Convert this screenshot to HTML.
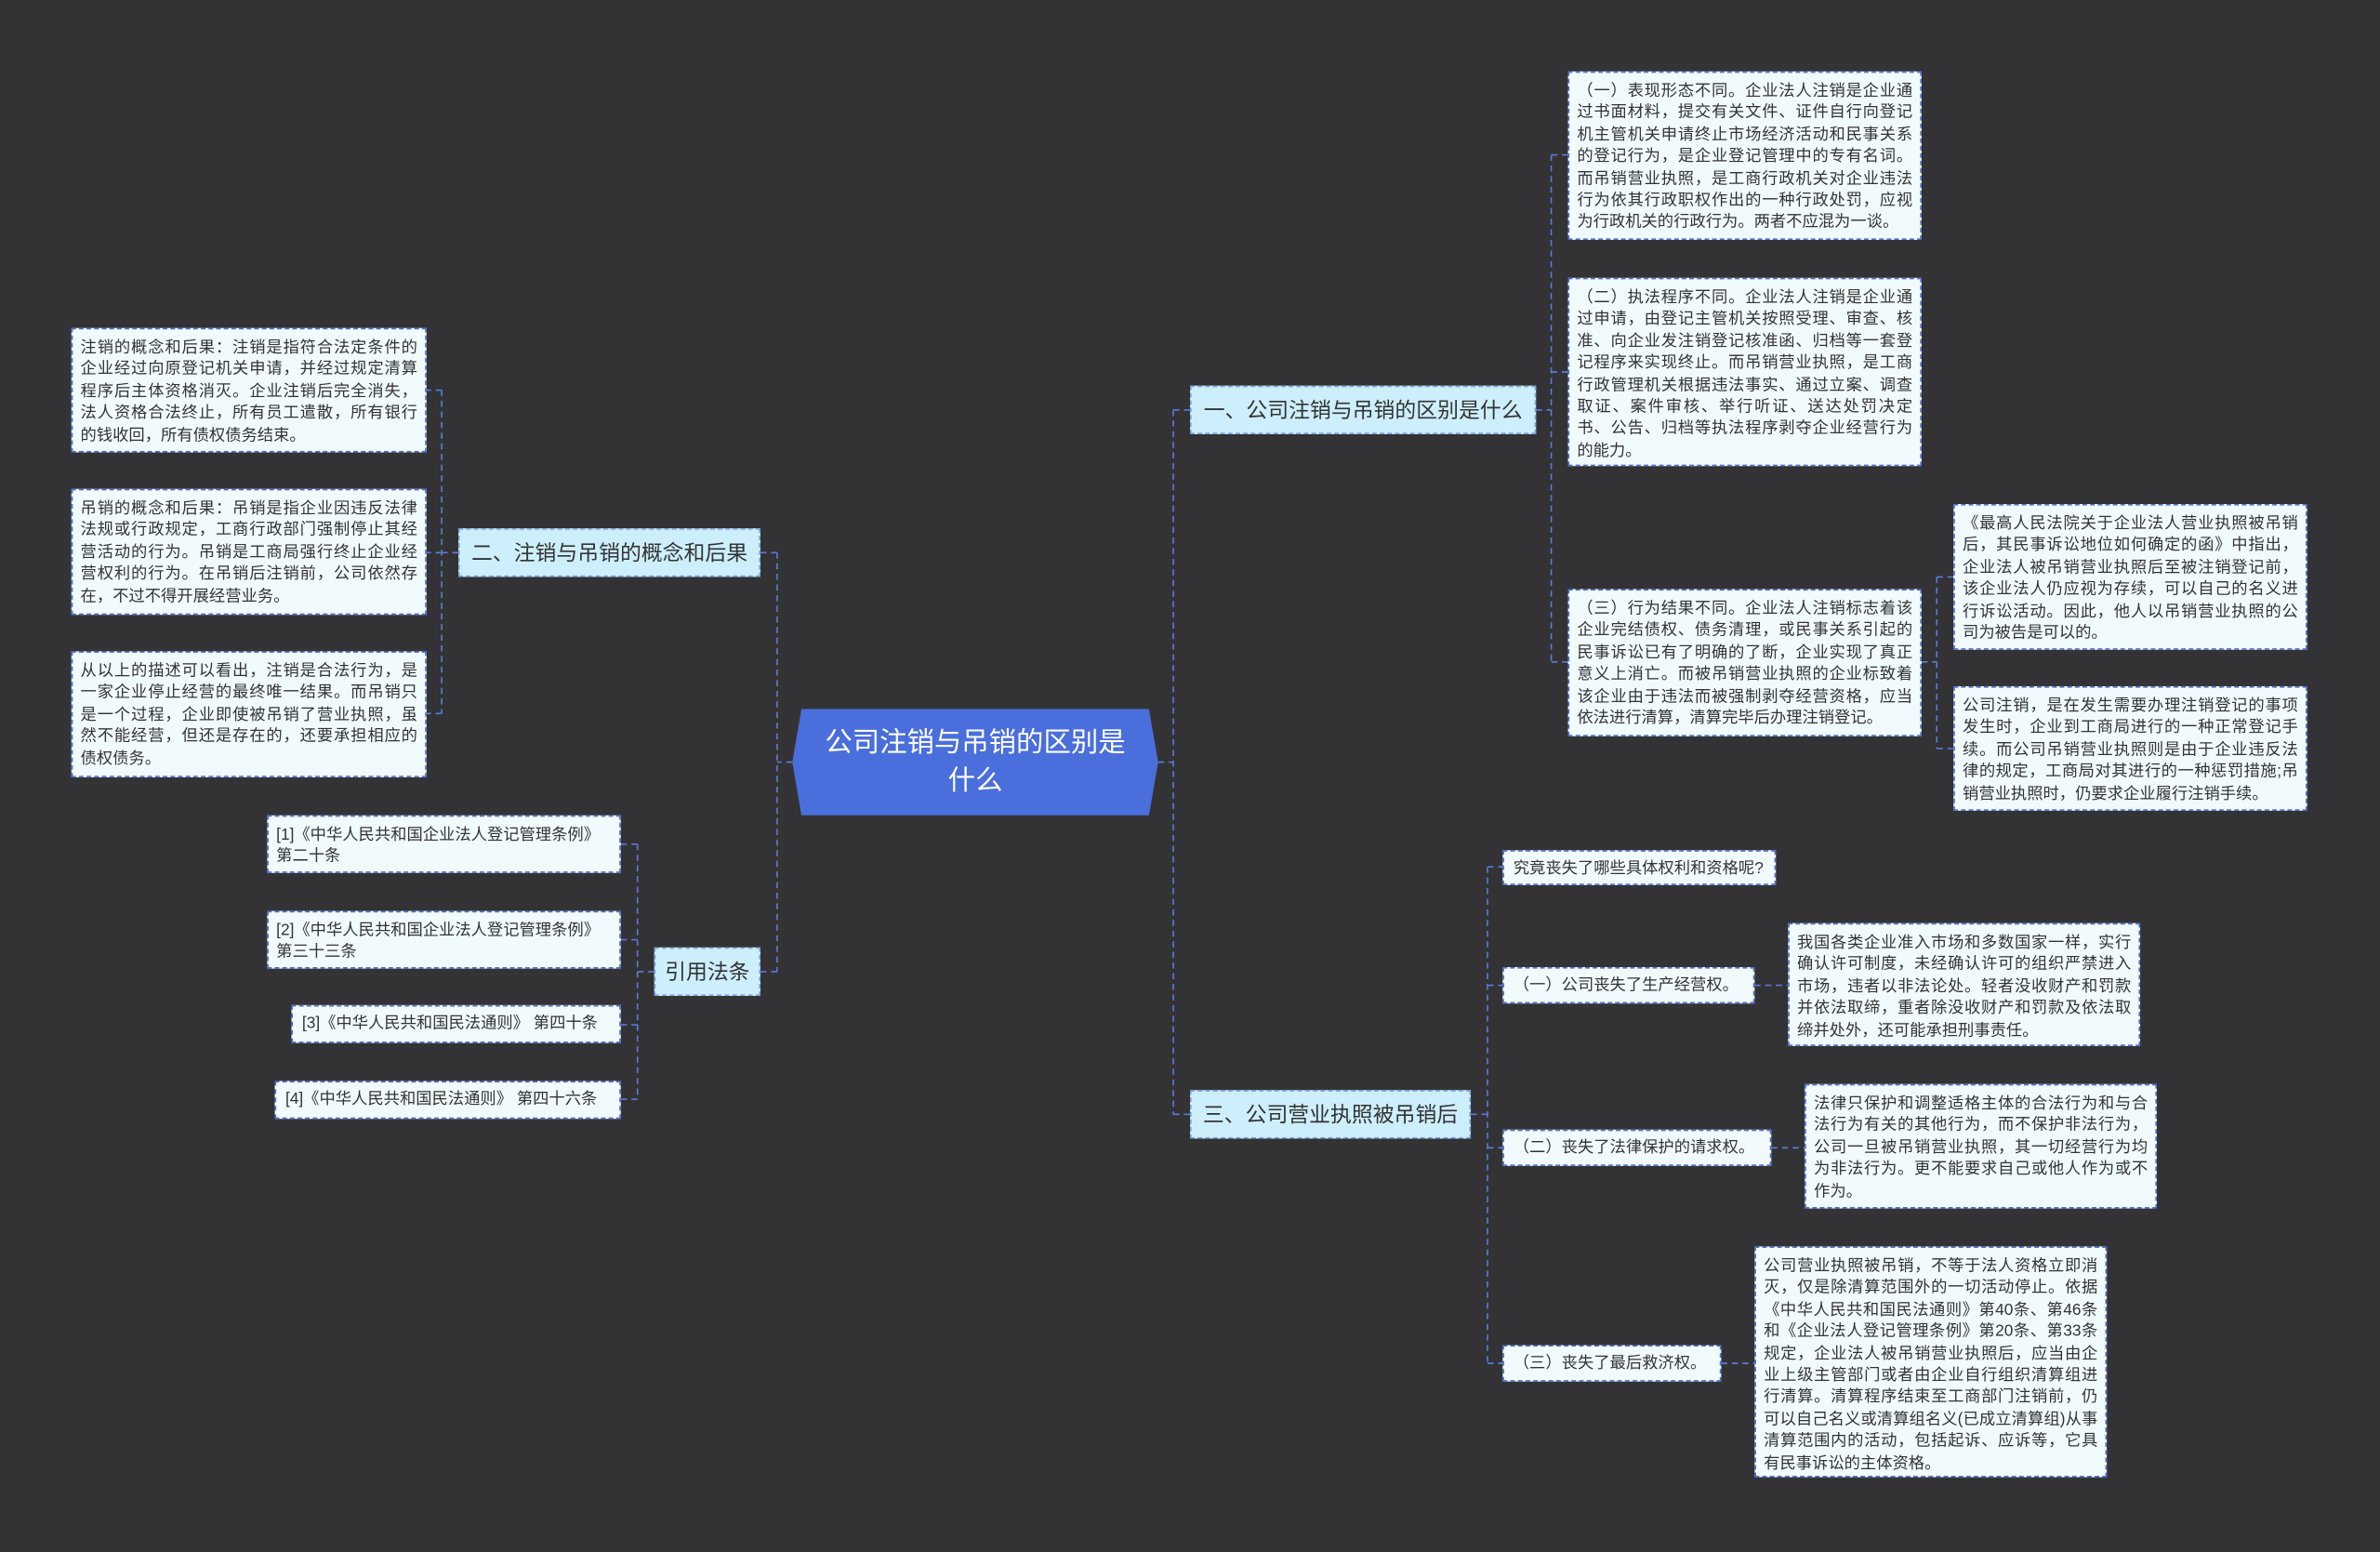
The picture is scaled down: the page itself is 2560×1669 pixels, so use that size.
<!DOCTYPE html>
<html><head><meta charset="utf-8"><style>
html,body{margin:0;padding:0;background:#333335;}
#w{position:relative;width:1568px;height:1022px;transform:scale(1.632653);transform-origin:0 0;background:#333335;font-family:"Liberation Sans","Noto Sans CJK SC",sans-serif;overflow:hidden}
.b{position:absolute;box-sizing:border-box}
.leaf{background:#f1fbfd;border:1px dashed #4f6fd1;color:#333;font-size:10.6px;line-height:14.4px;padding:5px 5px;text-align:justify;word-break:break-all}
.br{background:#cdeffb;border:1px dashed #7fa0e0;color:#333;font-size:14px;line-height:30px;text-align:center;white-space:nowrap}
.sm{background:#f1fbfd;border:1px dashed #4f6fd1;color:#333;font-size:10.6px;line-height:22px;padding:0 6px;white-space:nowrap}
svg{position:absolute;left:0;top:0}
</style></head><body><div id="w">
<svg width="1568" height="1022" fill="none" stroke="#5b7bd8" stroke-width="1" stroke-dasharray="4,3">
<path d="M763 502H773M773 270V734M773 270H784M773 734H784"/>
<path d="M522 502H512M512 364V640M512 364H501M512 640H501"/>
<path d="M1012 270H1022M1022 102V436M1022 102H1033M1022 245H1033M1022 436H1033"/>
<path d="M1266 436H1276M1276 380V493M1276 380H1287M1276 493H1287"/>
<path d="M302 364H291M291 257V470M291 257H281M291 364H281M291 470H281"/>
<path d="M431 640H420M420 556V724M420 556H409M420 619H409M420 675H409M420 724H409"/>
<path d="M969 734H980M980 571V898M980 571H990M980 649H990M980 756H990M980 898H990"/>
<path d="M1156 649H1178M1167 756H1189M1134 898H1156"/>
</svg>
<svg width="1568" height="1022"><polygon points="528,467 757,467 763,502 757,537 528,537 522,502" fill="#4a6fdc"/></svg>
<div class="b" style="left:522px;top:467px;width:241px;height:70px;color:#fff;font-size:18px;line-height:25px;text-align:center;padding-top:10px">公司注销与吊销的区别是<br>什么</div>

<div class="b br" style="left:784px;top:254px;width:228px;height:32px">一、公司注销与吊销的区别是什么</div>
<div class="b br" style="left:302px;top:348px;width:199px;height:32px">二、注销与吊销的概念和后果</div>
<div class="b br" style="left:431px;top:624px;width:70px;height:32px">引用法条</div>
<div class="b br" style="left:784px;top:718px;width:185px;height:32px">三、公司营业执照被吊销后</div>

<div class="b leaf" style="left:1033px;top:47px;width:233px;height:111px">（一）表现形态不同。企业法人注销是企业通过书面材料，提交有关文件、证件自行向登记机主管机关申请终止市场经济活动和民事关系的登记行为，是企业登记管理中的专有名词。而吊销营业执照，是工商行政机关对企业违法行为依其行政职权作出的一种行政处罚，应视为行政机关的行政行为。两者不应混为一谈。</div>
<div class="b leaf" style="left:1033px;top:183px;width:233px;height:124px">（二）执法程序不同。企业法人注销是企业通过申请，由登记主管机关按照受理、审查、核准、向企业发注销登记核准函、归档等一套登记程序来实现终止。而吊销营业执照，是工商行政管理机关根据违法事实、通过立案、调查取证、案件审核、举行听证、送达处罚决定书、公告、归档等执法程序剥夺企业经营行为的能力。</div>
<div class="b leaf" style="left:1033px;top:388px;width:233px;height:97px">（三）行为结果不同。企业法人注销标志着该企业完结债权、债务清理，或民事关系引起的民事诉讼已有了明确的了断，企业实现了真正意义上消亡。而被吊销营业执照的企业标致着该企业由于违法而被强制剥夺经营资格，应当依法进行清算，清算完毕后办理注销登记。</div>
<div class="b leaf" style="left:1287px;top:332px;width:233px;height:96px">《最高人民法院关于企业法人营业执照被吊销后，其民事诉讼地位如何确定的函》中指出，企业法人被吊销营业执照后至被注销登记前，该企业法人仍应视为存续，可以自己的名义进行诉讼活动。因此，他人以吊销营业执照的公司为被告是可以的。</div>
<div class="b leaf" style="left:1287px;top:452px;width:233px;height:82px">公司注销，是在发生需要办理注销登记的事项发生时，企业到工商局进行的一种正常登记手续。而公司吊销营业执照则是由于企业违反法律的规定，工商局对其进行的一种惩罚措施;吊销营业执照时，仍要求企业履行注销手续。</div>

<div class="b leaf" style="left:47px;top:216px;width:234px;height:82px">注销的概念和后果：注销是指符合法定条件的企业经过向原登记机关申请，并经过规定清算程序后主体资格消灭。企业注销后完全消失，法人资格合法终止，所有员工遣散，所有银行的钱收回，所有债权债务结束。</div>
<div class="b leaf" style="left:47px;top:322px;width:234px;height:83px">吊销的概念和后果：吊销是指企业因违反法律法规或行政规定，工商行政部门强制停止其经营活动的行为。吊销是工商局强行终止企业经营权利的行为。在吊销后注销前，公司依然存在，不过不得开展经营业务。</div>
<div class="b leaf" style="left:47px;top:429px;width:234px;height:83px">从以上的描述可以看出，注销是合法行为，是一家企业停止经营的最终唯一结果。而吊销只是一个过程，企业即使被吊销了营业执照，虽然不能经营，但还是存在的，还要承担相应的债权债务。</div>

<div class="b leaf" style="left:176px;top:537px;width:233px;height:38px;text-align:left">[1]《中华人民共和国企业法人登记管理条例》 第二十条</div>
<div class="b leaf" style="left:176px;top:600px;width:233px;height:38px;text-align:left">[2]《中华人民共和国企业法人登记管理条例》 第三十三条</div>
<div class="b sm" style="left:192px;top:662px;width:217px;height:25px;line-height:23px">[3]《中华人民共和国民法通则》 第四十条</div>
<div class="b sm" style="left:181px;top:712px;width:228px;height:25px;line-height:23px">[4]《中华人民共和国民法通则》 第四十六条</div>

<div class="b sm" style="left:990px;top:560px;width:180px;height:23px">究竟丧失了哪些具体权利和资格呢?</div>
<div class="b sm" style="left:990px;top:637px;width:166px;height:24px">（一）公司丧失了生产经营权。</div>
<div class="b sm" style="left:990px;top:744px;width:177px;height:24px">（二）丧失了法律保护的请求权。</div>
<div class="b sm" style="left:990px;top:886px;width:144px;height:24px">（三）丧失了最后救济权。</div>
<div class="b leaf" style="left:1178px;top:608px;width:232px;height:81px">我国各类企业准入市场和多数国家一样，实行确认许可制度，未经确认许可的组织严禁进入市场，违者以非法论处。轻者没收财产和罚款并依法取缔，重者除没收财产和罚款及依法取缔并处外，还可能承担刑事责任。</div>
<div class="b leaf" style="left:1189px;top:714px;width:232px;height:82px">法律只保护和调整适格主体的合法行为和与合法行为有关的其他行为，而不保护非法行为，公司一旦被吊销营业执照，其一切经营行为均为非法行为。更不能要求自己或他人作为或不作为。</div>
<div class="b leaf" style="left:1156px;top:821px;width:232px;height:152px">公司营业执照被吊销，不等于法人资格立即消灭，仅是除清算范围外的一切活动停止。依据《中华人民共和国民法通则》第40条、第46条和《企业法人登记管理条例》第20条、第33条规定，企业法人被吊销营业执照后，应当由企业上级主管部门或者由企业自行组织清算组进行清算。清算程序结束至工商部门注销前，仍可以自己名义或清算组名义(已成立清算组)从事清算范围内的活动，包括起诉、应诉等，它具有民事诉讼的主体资格。</div>
</div></body></html>
